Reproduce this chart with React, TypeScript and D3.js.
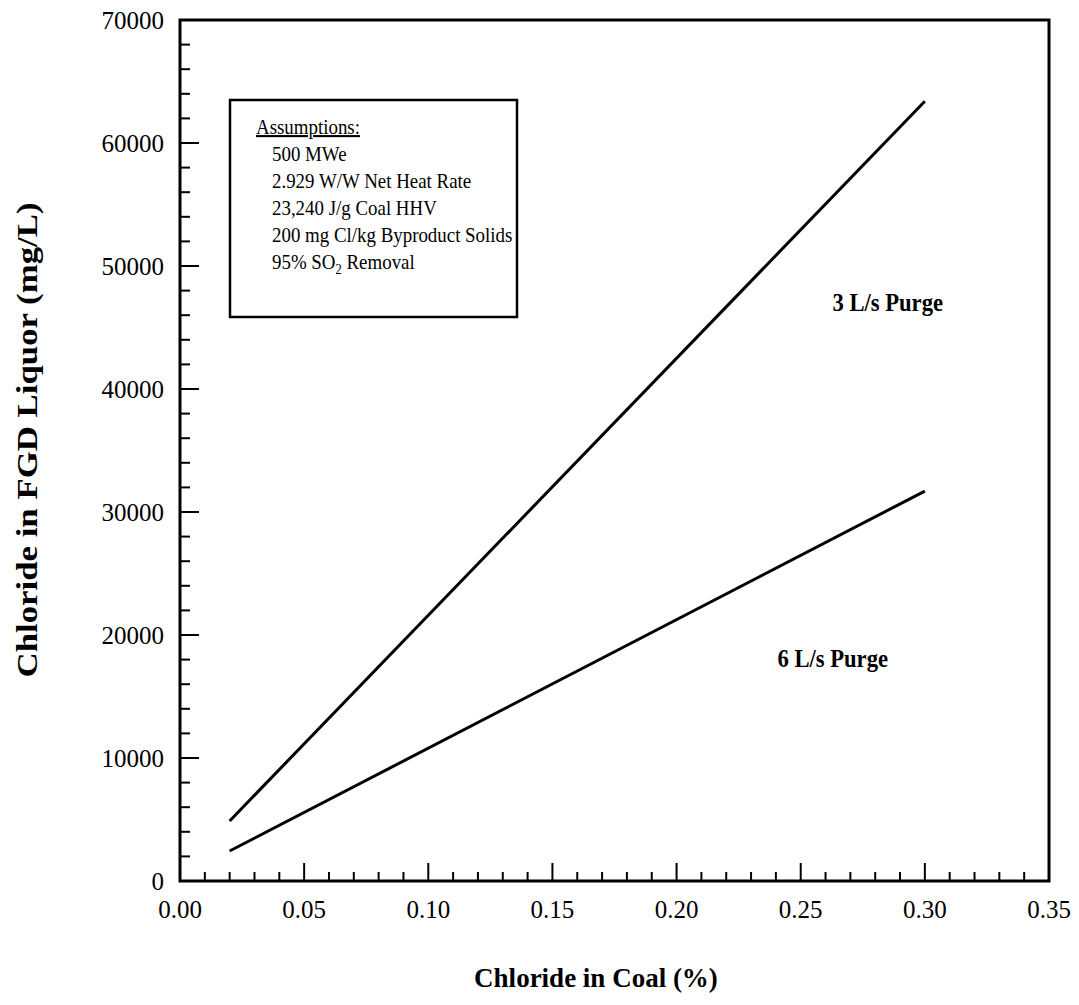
import React from "react";
import * as d3 from "d3";

const xTickValues = [0, 0.05, 0.1, 0.15, 0.2, 0.25, 0.3, 0.35];
const yTickValues = [0, 10000, 20000, 30000, 40000, 50000, 60000, 70000];

const purge3X = [0.02, 0.3];
const purge3Y = [4880, 63400];
const purge6X = [0.02, 0.3];
const purge6Y = [2440, 31700];

const assumptions = [
  "500 MWe",
  "2.929 W/W Net Heat Rate",
  "23,240 J/g Coal HHV",
  "200 mg Cl/kg Byproduct Solids",
];

const W = 1079;
const H = 1005;
const left = 180;
const right = 1049;
const top = 20;
const bottom = 881;

export default function App() {
  const x = d3.scaleLinear().domain([0, 0.35]).range([left, right]);
  const y = d3.scaleLinear().domain([0, 70000]).range([bottom, top]);
  const line = d3
    .line<[number, number]>()
    .x((d) => x(d[0]))
    .y((d) => y(d[1]));

  const xMinor = d3.range(0, 36).map((i) => i / 100);
  const yMinor = d3.range(0, 36).map((i) => i * 2000);

  const s3: [number, number][] = purge3X.map((v, i) => [v, purge3Y[i]]);
  const s6: [number, number][] = purge6X.map((v, i) => [v, purge6Y[i]]);

  const font = "'Liberation Serif', 'Times New Roman', serif";
  const boxFs = 21;
  const lineGap = 27;
  const sx = 0.9;

  return (
    <svg
      width={W}
      height={H}
      style={{ position: "absolute", left: 0, top: 0, background: "#fff" }}
      fontFamily={font}
    >
      <rect x={0} y={0} width={W} height={H} fill="#fff" />
      {xMinor.map((v, i) => (
        <line
          key={"xm" + i}
          x1={x(v)}
          x2={x(v)}
          y1={bottom}
          y2={bottom - (i % 5 === 0 ? 18 : 9)}
          stroke="#000"
          strokeWidth={2}
        />
      ))}
      {yMinor.map((v, i) => (
        <line
          key={"ym" + i}
          x1={left}
          x2={left + (i % 5 === 0 ? 19 : 10)}
          y1={y(v)}
          y2={y(v)}
          stroke="#000"
          strokeWidth={2}
        />
      ))}
      <rect
        x={left}
        y={top}
        width={right - left}
        height={bottom - top}
        fill="none"
        stroke="#000"
        strokeWidth={3}
      />
      {xTickValues.map((v) => (
        <text
          key={"xl" + v}
          x={x(v)}
          y={918}
          fontSize={25}
          textAnchor="middle"
        >
          {v.toFixed(2)}
        </text>
      ))}
      {yTickValues.map((v) => (
        <text
          key={"yl" + v}
          x={164}
          y={y(v) + 9}
          fontSize={25}
          textAnchor="end"
        >
          {v}
        </text>
      ))}
      <path d={line(s3) || ""} fill="none" stroke="#000" strokeWidth={3} />
      <path d={line(s6) || ""} fill="none" stroke="#000" strokeWidth={3} />

      <g transform="translate(943, 311) scale(0.87, 1)">
        <text x={0} y={0} fontSize={26} fontWeight="bold" textAnchor="end">
          3 L/s Purge
        </text>
      </g>
      <g transform="translate(888, 667) scale(0.87, 1)">
        <text x={0} y={0} fontSize={26} fontWeight="bold" textAnchor="end">
          6 L/s Purge
        </text>
      </g>

      <rect
        x={230}
        y={100}
        width={287}
        height={217}
        fill="none"
        stroke="#000"
        strokeWidth={2.5}
      />
      <g transform={`translate(256, 134) scale(${sx}, 1)`}>
        <text x={0} y={0} fontSize={boxFs} textDecoration="underline">
          Assumptions:
        </text>
      </g>
      {assumptions.map((t, i) => (
        <g
          key={t}
          transform={`translate(272, ${134 + (i + 1) * lineGap}) scale(${sx}, 1)`}
        >
          <text x={0} y={0} fontSize={boxFs}>
            {t}
          </text>
        </g>
      ))}
      <g transform={`translate(272, ${134 + 5 * lineGap}) scale(${sx}, 1)`}>
        <text x={0} y={0} fontSize={boxFs}>
          95% SO
          <tspan fontSize={14} dy={5}>
            2
          </tspan>
          <tspan dy={-5}> Removal</tspan>
        </text>
      </g>

      <text
        x={596}
        y={987}
        fontSize={27}
        fontWeight="bold"
        textAnchor="middle"
      >
        Chloride in Coal (%)
      </text>
      <text
        transform={`translate(37, 440) rotate(-90)`}
        fontSize={30}
        fontWeight="bold"
        textAnchor="middle"
        textLength={475}
        lengthAdjust="spacingAndGlyphs"
      >
        Chloride in FGD Liquor (mg/L)
      </text>
    </svg>
  );
}
